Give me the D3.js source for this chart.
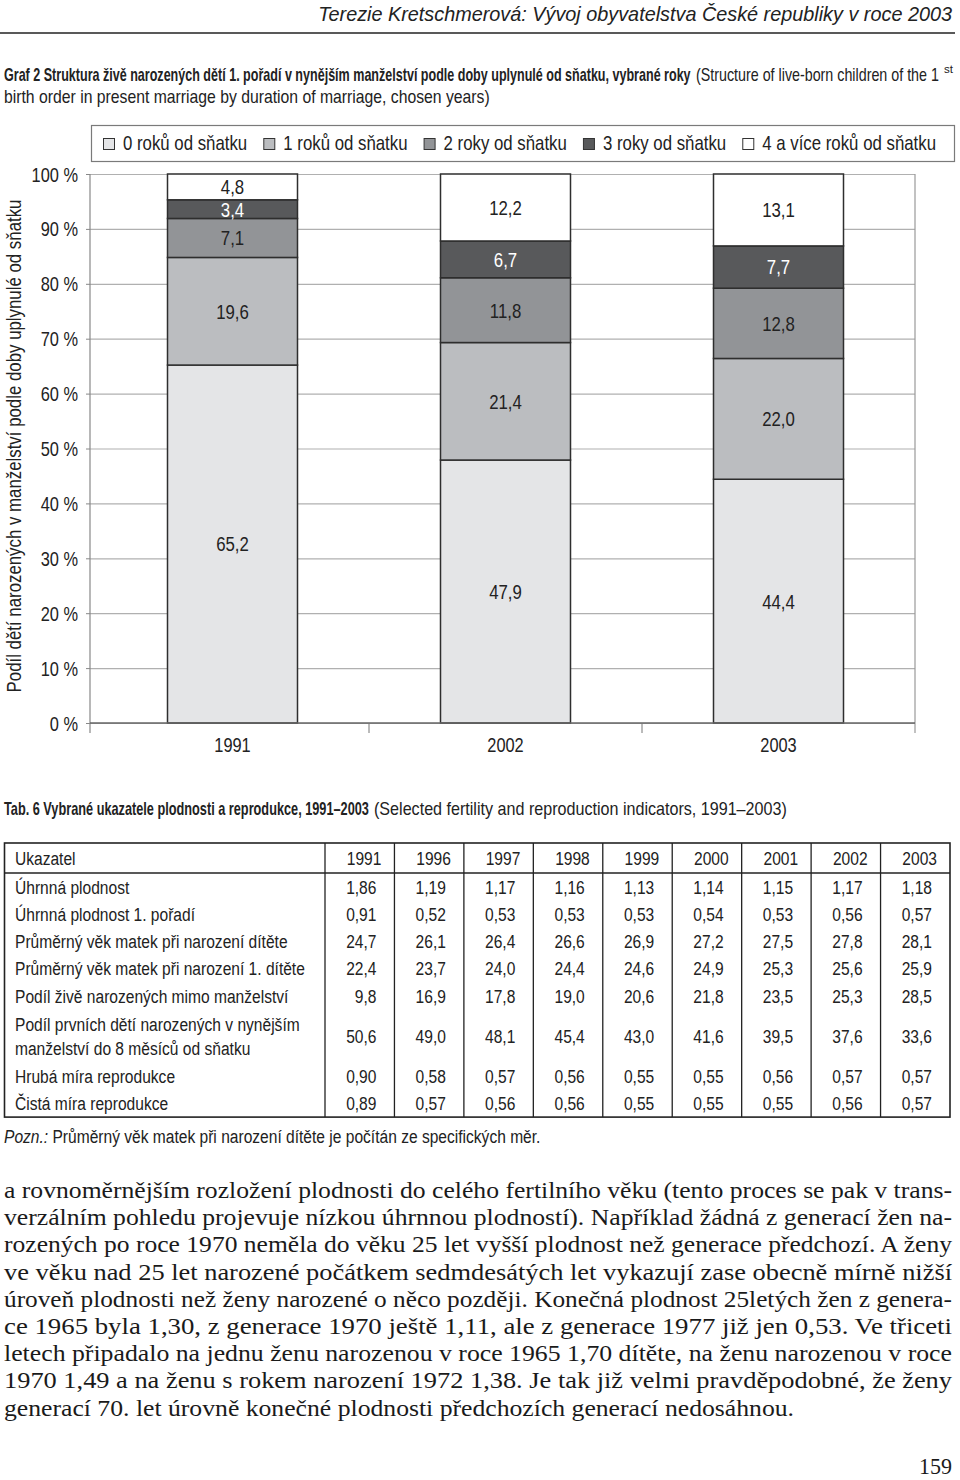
<!DOCTYPE html>
<html><head><meta charset="utf-8">
<script src="https://cdn.jsdelivr.net/npm/d3@7"></script>
<style>body{margin:0;background:#fff}</style>
</head><body><svg id="c" width="960" height="1480"></svg>
<script>
// ---------- DATA ----------
const categories = ["1991", "2002", "2003"];
const seriesNames = ["0 roků od sňatku", "1 roků od sňatku", "2 roky od sňatku", "3 roky od sňatku", "4 a více roků od sňatku"];
const years0 = [65.2, 47.9, 44.4];
const years1 = [19.6, 21.4, 22.0];
const years2 = [7.1, 11.8, 12.8];
const years3 = [3.4, 6.7, 7.7];
const years4 = [4.8, 12.2, 13.1];
const yTicks = [0, 10, 20, 30, 40, 50, 60, 70, 80, 90, 100];

const tableYears = ["1991", "1996", "1997", "1998", "1999", "2000", "2001", "2002", "2003"];
const indicatorNames = [
  ["Úhrnná plodnost"],
  ["Úhrnná plodnost 1. pořadí"],
  ["Průměrný věk matek při narození dítěte"],
  ["Průměrný věk matek při narození 1. dítěte"],
  ["Podíl živě narozených mimo manželství"],
  ["Podíl prvních dětí narozených v nynějším", "manželství do 8 měsíců od sňatku"],
  ["Hrubá míra reprodukce"],
  ["Čistá míra reprodukce"]
];
const tfr = [1.86, 1.19, 1.17, 1.16, 1.13, 1.14, 1.15, 1.17, 1.18];
const tfr1 = [0.91, 0.52, 0.53, 0.53, 0.53, 0.54, 0.53, 0.56, 0.57];
const meanAge = [24.7, 26.1, 26.4, 26.6, 26.9, 27.2, 27.5, 27.8, 28.1];
const meanAge1 = [22.4, 23.7, 24.0, 24.4, 24.6, 24.9, 25.3, 25.6, 25.9];
const outOfWedlock = [9.8, 16.9, 17.8, 19.0, 20.6, 21.8, 23.5, 25.3, 28.5];
const within8m = [50.6, 49.0, 48.1, 45.4, 43.0, 41.6, 39.5, 37.6, 33.6];
const grossRepro = [0.90, 0.58, 0.57, 0.56, 0.55, 0.55, 0.56, 0.57, 0.57];
const netRepro = [0.89, 0.57, 0.56, 0.56, 0.55, 0.55, 0.55, 0.56, 0.57];
const rowDecimals = [2, 2, 1, 1, 1, 1, 2, 2];

const paragraphLines = [
  "a rovnoměrnějším rozložení plodnosti do celého fertilního věku (tento proces se pak v trans-",
  "verzálním pohledu projevuje nízkou úhrnnou plodností). Například žádná z generací žen na-",
  "rozených po roce 1970 neměla do věku 25 let vyšší plodnost než generace předchozí. A ženy",
  "ve věku nad 25 let narozené počátkem sedmdesátých let vykazují zase obecně mírně nižší",
  "úroveň plodnosti než ženy narozené o něco později. Konečná plodnost 25letých žen z genera-",
  "ce 1965 byla 1,30, z generace 1970 ještě 1,11, ale z generace 1977 již jen 0,53. Ve třiceti",
  "letech připadalo na jednu ženu narozenou v roce 1965 1,70 dítěte, na ženu narozenou v roce",
  "1970 1,49 a na ženu s rokem narození 1972 1,38. Je tak již velmi pravděpodobné, že ženy",
  "generací 70. let úrovně konečné plodnosti předchozích generací nedosáhnou."
];

// ---------- SETUP ----------
const SANS = "'Liberation Sans',Arial,sans-serif";
const SERIF = "'Liberation Serif','Times New Roman',serif";
const NF = 0.82; // horizontal condensing factor (Arial Narrow-like)
const colors = ["#e4e5e7", "#bbbdc0", "#929497", "#58595b", "#ffffff"];
const svg = d3.select("#c");
svg.append("rect").attr("width", 960).attr("height", 1480).attr("fill", "#fff");

// place text at (x,y) squeezed horizontally by factor s (around its anchor)
function squeeze(sel, x, y, s, extra) {
  sel.attr("x", 0).attr("y", 0).attr("transform", `translate(${x},${y}) ${extra || ""} scale(${s},1)`);
  return sel;
}
function fitWidth(sel, x, y, width, extra) {
  const w = sel.node().getComputedTextLength();
  return squeeze(sel, x, y, width / w, extra);
}
function txt(parent, str, size, opts) {
  const t = parent.append("text").attr("font-family", (opts && opts.family) || SANS).attr("font-size", size)
    .attr("fill", (opts && opts.fill) || "#222").text(str);
  if (opts && opts.anchor) t.attr("text-anchor", opts.anchor);
  if (opts && opts.weight) t.attr("font-weight", opts.weight);
  if (opts && opts.style) t.attr("font-style", opts.style);
  if (opts && opts.dy) t.attr("dy", opts.dy);
  return t;
}

// Header
fitWidth(txt(svg, "Terezie Kretschmerová: Vývoj obyvatelstva České republiky v roce 2003", 20, { anchor: "end", style: "italic" }), 952, 21, 634);
svg.append("line").attr("x1", 0).attr("x2", 955).attr("y1", 33).attr("y2", 33)
  .attr("stroke", "#222").attr("stroke-width", 1.6);

// Chart title
fitWidth(txt(svg, "Graf 2 Struktura živě narozených dětí 1. pořadí v nynějším manželství podle doby uplynulé od sňatku, vybrané roky", 17.5, { weight: "bold" }), 4, 81, 687);
fitWidth(txt(svg, "(Structure of live-born children of the 1", 17.5), 696, 81, 243);
fitWidth(txt(svg, "st", 10), 944, 73, 9);
fitWidth(txt(svg, "birth order in present marriage by duration of marriage, chosen years)", 17.5), 4, 103, 486);

// ---------- CHART ----------
const y = d3.scaleLinear().domain([0, 100]).range([723, 174]);
const x = d3.scaleBand().domain(categories).range([96, 915]);
const barW = 130;

// Legend
svg.append("rect").attr("x", 91.5).attr("y", 125.5).attr("width", 863).attr("height", 36)
  .attr("fill", "none").attr("stroke", "#7a7a7a").attr("stroke-width", 1.2);
let lx = 103;
seriesNames.forEach((name, i) => {
  const g = svg.append("g");
  g.append("rect").attr("x", lx + 0.5).attr("y", 138.5).attr("width", 11).attr("height", 11)
    .attr("fill", colors[i]).attr("stroke", "#333").attr("stroke-width", 1);
  const tx = txt(g, name, 20.5);
  const w = tx.node().getComputedTextLength() * NF;
  squeeze(tx, lx + 20, 150, NF);
  lx = lx + 20 + w + 16;
});

// Gridlines and y axis
const yAxis = d3.axisLeft(y).tickValues(yTicks).tickSize(-825).tickPadding(12).tickFormat(d => d + " %");
const ga = svg.append("g").attr("transform", "translate(90,0)").call(yAxis);
ga.select(".domain").remove();
ga.selectAll(".tick line").attr("stroke", "#b0b0b0").attr("stroke-width", 1.2);
ga.selectAll(".tick text").attr("font-family", SANS).attr("font-size", 20).attr("fill", "#222").attr("dy", "0.35em")
  .each(function () { squeeze(d3.select(this), -12, 0, NF); });
ga.selectAll(".tick").append("line").attr("x1", -4).attr("x2", 0).attr("stroke", "#888");
// left axis and right border
svg.append("line").attr("x1", 90).attr("x2", 90).attr("y1", 174).attr("y2", 733).attr("stroke", "#888").attr("stroke-width", 1.2);
svg.append("line").attr("x1", 915).attr("x2", 915).attr("y1", 174).attr("y2", 733).attr("stroke", "#999").attr("stroke-width", 1.2);

// Stacked bars
const rows = categories.map((c, i) => ({ cat: c, s0: years0[i], s1: years1[i], s2: years2[i], s3: years3[i], s4: years4[i] }));
const stack = d3.stack().keys(["s0", "s1", "s2", "s3", "s4"])(rows);
stack.forEach((layer, li) => {
  layer.forEach(d => {
    const cx = x(d.data.cat) + x.bandwidth() / 2;
    const top = y(Math.min(d[1], 100)), bot = y(d[0]);
    svg.append("rect").attr("x", cx - barW / 2).attr("y", top).attr("width", barW).attr("height", bot - top)
      .attr("fill", colors[li]).attr("stroke", "#2e2e2e").attr("stroke-width", 1.5);
  });
});
stack.forEach((layer, li) => {
  layer.forEach(d => {
    const cx = x(d.data.cat) + x.bandwidth() / 2;
    const top = y(Math.min(d[1], 100)), bot = y(d[0]);
    const t = txt(svg, d3.format(".1f")(d[1] - d[0]).replace(".", ","), 20.5,
      { anchor: "middle", dy: "0.36em", fill: li === 3 ? "#fff" : "#222" });
    squeeze(t, cx, (top + bot) / 2, NF);
  });
});

// Bottom axis
svg.append("line").attr("x1", 90).attr("x2", 915).attr("y1", 723).attr("y2", 723).attr("stroke", "#666").attr("stroke-width", 1.6);
categories.slice(1).forEach(c => {
  svg.append("line").attr("x1", x(c)).attr("x2", x(c)).attr("y1", 723).attr("y2", 733).attr("stroke", "#777");
});
categories.forEach(c => {
  squeeze(txt(svg, c, 20, { anchor: "middle" }), x(c) + x.bandwidth() / 2, 752, NF);
});

// Y axis title
fitWidth(txt(svg, "Podíl dětí narozených v manželství podle doby uplynulé od sňatku", 20.5, { anchor: "middle" }), 21, 446, 493, "rotate(-90)");

// ---------- TABLE ----------
fitWidth(txt(svg, "Tab. 6 Vybrané ukazatele plodnosti a reprodukce, 1991–2003", 17.5, { weight: "bold" }), 4, 815, 365);
fitWidth(txt(svg, "(Selected fertility and reproduction indicators, 1991–2003)", 17.5), 374, 815, 413);

const tableData = [tfr, tfr1, meanAge, meanAge1, outOfWedlock, within8m, grossRepro, netRepro];
const colX = d3.scaleBand().domain(tableYears).range([325, 950]);
const tTop = 843, headH = 30;
const rowH = indicatorNames.map(n => n.length > 1 ? 53 : 27.3);
const tBottom = tTop + headH + d3.sum(rowH);
const tg = svg.append("g");
tg.append("rect").attr("x", 4.5).attr("y", tTop).attr("width", 945.5).attr("height", tBottom - tTop)
  .attr("fill", "none").attr("stroke", "#222").attr("stroke-width", 1.6);
tg.append("line").attr("x1", 4.5).attr("x2", 950).attr("y1", tTop + headH).attr("y2", tTop + headH).attr("stroke", "#222").attr("stroke-width", 1.6);
const TF = 19;
tableYears.forEach(yr => {
  tg.append("line").attr("x1", colX(yr)).attr("x2", colX(yr)).attr("y1", tTop).attr("y2", tBottom).attr("stroke", "#222").attr("stroke-width", 1.3);
  squeeze(txt(tg, yr, TF, { anchor: "end", dy: "0.36em" }), colX(yr) + colX.bandwidth() - 13, tTop + headH / 2, NF);
});
squeeze(txt(tg, "Ukazatel", TF, { dy: "0.36em" }), 15, tTop + headH / 2, NF);
let ry = tTop + headH;
indicatorNames.forEach((name, i) => {
  const cy = ry + rowH[i] / 2;
  name.forEach((ln, j) => {
    squeeze(txt(tg, ln, TF, { dy: "0.36em" }), 15, cy + (j - (name.length - 1) / 2) * 24, NF);
  });
  tableData[i].forEach((v, k) => {
    squeeze(txt(tg, d3.format("." + rowDecimals[i] + "f")(v).replace(".", ","), TF, { anchor: "end", dy: "0.36em" }),
      colX(tableYears[k]) + colX.bandwidth() - 18, cy, NF);
  });
  ry += rowH[i];
});

// Note
const nt = svg.append("text").attr("font-family", SANS).attr("font-size", TF).attr("fill", "#222");
nt.append("tspan").attr("font-style", "italic").text("Pozn.:");
nt.append("tspan").text(" Průměrný věk matek při narození dítěte je počítán ze specifických měr.");
squeeze(nt, 4, 1143, NF);

// ---------- PARAGRAPH ----------
paragraphLines.forEach((ln, i) => {
  const last = i === paragraphLines.length - 1;
  svg.append("text").attr("x", 4).attr("y", 1198 + i * 27.2).attr("font-family", SERIF).attr("font-size", 24)
    .attr("fill", "#1a1a1a").attr("textLength", last ? 790 : 948).attr("lengthAdjust", "spacingAndGlyphs").text(ln);
});
fitWidth(txt(svg, "159", 23, { family: SERIF, anchor: "end", fill: "#1a1a1a" }), 952, 1474, 33);
</script></body></html>
